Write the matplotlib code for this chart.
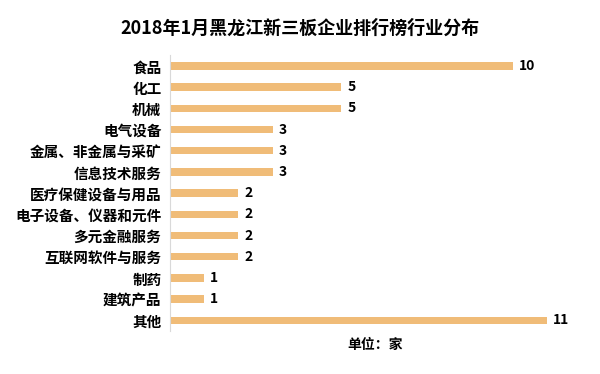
import matplotlib.pyplot as plt
import numpy as np

plt.rcParams['font.family'] = ['Noto Sans CJK SC', 'DejaVu Sans']

categories = ['食品', '化工', '机械', '电气设备', '金属、非金属与采矿', '信息技术服务',
              '医疗保健设备与用品', '电子设备、仪器和元件', '多元金融服务',
              '互联网软件与服务', '制药', '建筑产品', '其他']
values = [10, 5, 5, 3, 3, 3, 2, 2, 2, 2, 1, 1, 11]

fig = plt.figure(figsize=(6, 3.74), dpi=100)

ax = fig.add_axes([0.283, 0.115, 0.697, 0.737])
y = np.arange(len(categories))
ax.barh(y, values, height=0.35, color='#F0BC78', zorder=2)
ax.set_ylim(len(categories) - 0.5, -0.5)
ax.set_xlim(0, 12.2)
ax.set_yticks(y)
ax.set_yticklabels(categories, fontsize=10.5, fontweight='bold')
ax.tick_params(axis='y', length=0, pad=6)
ax.set_xticks([])
for s in ['top', 'right', 'bottom']:
    ax.spines[s].set_visible(False)
ax.spines['left'].set_color('#d9d9d9')
ax.spines['left'].set_linewidth(0.8)

for yi, v in zip(y, values):
    ax.text(v + 0.18, yi, str(v), va='center', ha='left', fontsize=10, fontweight='bold')

fig.text(0.5, 0.925, '2018年1月黑龙江新三板企业排行榜行业分布', ha='center', va='center',
         fontsize=13, fontweight='bold')
fig.text(0.625, 0.078, '单位：家', ha='center', va='center', fontsize=10, fontweight='bold')

fig.savefig('out.png', dpi=100)
